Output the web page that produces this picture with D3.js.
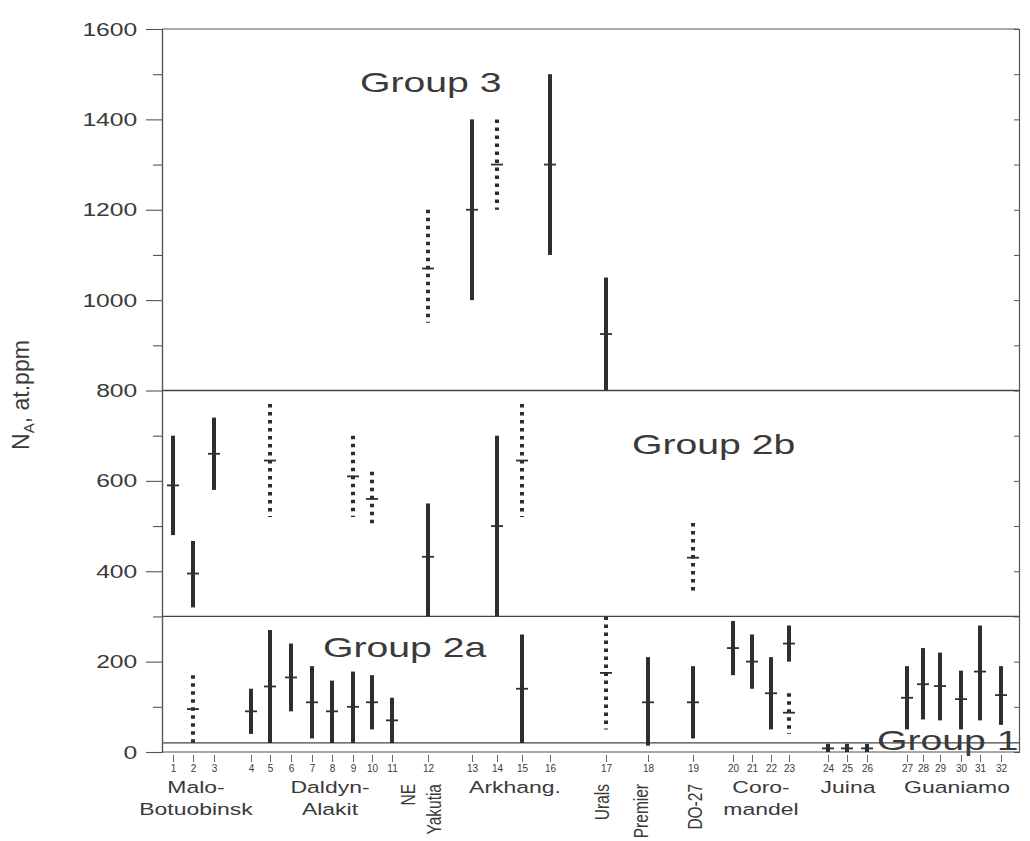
<!DOCTYPE html>
<html>
<head>
<meta charset="utf-8">
<script src="https://cdn.jsdelivr.net/npm/d3@7"></script>
<style>
  body { margin: 0; background: #fff; }
  text { font-family: "Liberation Sans", Arial, sans-serif; fill: #3a3a3a; }
</style>
</head>
<body>
<div class="content"></div>
<script>
// sample numbers and where they sit along the (unevenly spaced) x axis
var sampleIds = d3.range(1, 33);
var sampleSlots = [0.55, 1.55, 2.6, 4.45, 5.4, 6.45, 7.5, 8.5, 9.55, 10.5, 11.5,
    13.3, 15.5, 16.75, 18.0, 19.4, 22.2, 24.3, 26.55, 28.55, 29.5, 30.45, 31.35,
    33.3, 34.25, 35.25, 37.25, 38.05, 38.9, 39.95, 40.9, 41.95];

// ranges: [sample, low, mean, high]  (N_A, at.ppm)
var solidRanges = [
    [1, 480, 590, 700], [2, 320, 395, 467], [3, 580, 660, 740],
    [4, 40, 90, 140], [5, 20, 145, 270], [6, 90, 165, 240], [7, 30, 110, 190],
    [8, 20, 90, 158], [9, 20, 100, 178], [10, 50, 110, 170], [11, 20, 70, 120],
    [12, 300, 432, 550], [13, 1000, 1200, 1400], [14, 300, 500, 700],
    [15, 20, 140, 260], [16, 1100, 1300, 1500], [17, 800, 925, 1050],
    [18, 14, 110, 210], [19, 30, 110, 190], [20, 170, 230, 290],
    [21, 140, 200, 260], [22, 50, 130, 210], [23, 200, 240, 280],
    [24, 0, 8, 18], [25, 0, 8, 18], [26, 0, 8, 18],
    [27, 50, 120, 190], [28, 72, 150, 230], [29, 70, 146, 220],
    [30, 50, 117, 180], [31, 70, 178, 280], [32, 60, 126, 190]
];
var dottedRanges = [
    [2, 20, 95, 170], [5, 520, 645, 770], [9, 520, 610, 700], [10, 505, 560, 620],
    [12, 950, 1070, 1200], [14, 1200, 1300, 1400], [15, 520, 645, 770],
    [17, 50, 175, 300], [19, 350, 430, 507], [23, 40, 87, 130]
];

// group boundaries
var groupLimits = [20, 300, 800];

// region names under the axis
var regionNames = [["Malo-", "Botuobinsk"], ["Daldyn-", "Alakit"], ["Arkhang."],
    ["Coro-", "mandel"], ["Juina"], ["Guaniamo"]];
var regionSlots = [1.7, 8.4, 17.65, 29.95, 34.3, 39.75];
var verticalNames = ["NE", "Yakutia", "Urals", "Premier", "DO-27"];
var verticalSlots = [12.65, 13.95, 22.35, 24.3, 27.0];

var margin = {top: 29, right: 11, bottom: 89, left: 162},
    width = 1030 - margin.left - margin.right,
    height = 841 - margin.top - margin.bottom;

var svg = d3.select(".content")
    .append("svg")
    .attr("width", width + margin.left + margin.right)
    .attr("height", height + margin.top + margin.bottom)
    .append("g")
    .attr("transform", "translate(" + margin.left + "," + margin.top + ")");

var x = d3.scaleLinear().domain([0, 42.85]).range([0, width]);
var y = d3.scaleLinear().domain([0, 1600]).range([height, 0]);

function slotOf(id) { return sampleSlots[sampleIds.indexOf(id)]; }

var ink = "#2e2e2e";

// frame: top, bottom
svg.append("line").attr("x1", 0).attr("x2", width).attr("y1", y(1600)).attr("y2", y(1600))
    .attr("stroke", "#555").attr("stroke-width", 1.2);
svg.append("line").attr("x1", 0).attr("x2", width).attr("y1", y(0)).attr("y2", y(0))
    .attr("stroke", "#555").attr("stroke-width", 1.2);

// group dividers
svg.selectAll(".divider")
    .data(groupLimits)
    .enter()
    .append("line")
    .attr("x1", 0).attr("x2", width)
    .attr("y1", function(d) { return y(d); })
    .attr("y2", function(d) { return y(d); })
    .attr("stroke", "#444")
    .attr("stroke-width", 1.3);

// left axis: minor + major ticks
var minorAxis = svg.append("g")
    .call(d3.axisLeft(y).tickValues(d3.range(100, 1600, 200)).tickSize(9).tickFormat(""));
var majorAxis = svg.append("g")
    .call(d3.axisLeft(y).tickValues(d3.range(0, 1601, 200)).tickSize(16).tickPadding(0)
        .tickFormat(d3.format("d")));
[minorAxis, majorAxis].forEach(function(a) {
    a.select(".domain").attr("stroke", "#555").attr("stroke-width", 1.2);
    a.selectAll(".tick line").attr("stroke", "#555").attr("stroke-width", 1.1);
});
majorAxis.selectAll(".tick text")
    .attr("x", -19)
    .attr("transform", "scale(1.3,1)")
    .style("font-size", "19px")
    .attr("fill", "#3a3a3a");

// right border with inner ticks
var rightAxis = svg.append("g")
    .attr("transform", "translate(" + width + ",0)")
    .call(d3.axisLeft(y).tickValues(d3.range(0, 1601, 100)).tickSize(5).tickFormat(""));
rightAxis.select(".domain").attr("stroke", "#555").attr("stroke-width", 1.2);
rightAxis.selectAll(".tick line").attr("stroke", "#555");

// bottom axis with sample numbers
var bottomAxis = svg.append("g")
    .attr("transform", "translate(0," + (height + 3) + ")")
    .call(d3.axisBottom(x).tickValues(sampleSlots).tickSize(7).tickPadding(3)
        .tickFormat(function(d, i) { return sampleIds[i]; }));
bottomAxis.select(".domain").remove();
bottomAxis.selectAll(".tick line").attr("stroke", "#666");
bottomAxis.selectAll(".tick text").style("font-size", "10px").attr("fill", "#444");

// solid ranges
svg.selectAll(".solid")
    .data(solidRanges)
    .enter()
    .append("line")
    .attr("x1", function(d) { return x(slotOf(d[0])); })
    .attr("x2", function(d) { return x(slotOf(d[0])); })
    .attr("y1", function(d) { return y(d[1]); })
    .attr("y2", function(d) { return y(d[3]); })
    .attr("stroke", ink)
    .attr("stroke-width", 4);

// dotted ranges
svg.selectAll(".dotted")
    .data(dottedRanges)
    .enter()
    .append("line")
    .attr("x1", function(d) { return x(slotOf(d[0])); })
    .attr("x2", function(d) { return x(slotOf(d[0])); })
    .attr("y1", function(d) { return y(d[3]); })
    .attr("y2", function(d) { return y(d[1]); })
    .attr("stroke", ink)
    .attr("stroke-width", 4)
    .attr("stroke-dasharray", "3.5,4.5");

// mean marks
svg.selectAll(".mean")
    .data(solidRanges.concat(dottedRanges))
    .enter()
    .append("line")
    .attr("x1", function(d) { return x(slotOf(d[0])) - 6; })
    .attr("x2", function(d) { return x(slotOf(d[0])) + 6; })
    .attr("y1", function(d) { return y(d[2]); })
    .attr("y2", function(d) { return y(d[2]); })
    .attr("stroke", ink)
    .attr("stroke-width", 1.8);

// group titles
var groupTitles = [["Group 3", 9.9, 1460], ["Group 2b", 23.5, 659], ["Group 2a", 8.05, 210], ["Group 1", 35.75, 4]];
svg.selectAll(".gtitle")
    .data(groupTitles)
    .enter()
    .append("text")
    .attr("transform", function(d) { return "translate(" + x(d[1]) + "," + y(d[2]) + ") scale(1.4,1)"; })
    .style("font-size", "28px")
    .attr("fill", "#333")
    .text(function(d) { return d[0]; });

// region names
var region = svg.selectAll(".region")
    .data(regionNames)
    .enter()
    .append("text")
    .attr("transform", function(d, i) { return "translate(" + x(regionSlots[i]) + "," + (height + 41) + ") scale(1.35,1)"; })
    .attr("text-anchor", "middle")
    .style("font-size", "17px")
    .attr("fill", "#333");
region.selectAll("tspan")
    .data(function(d) { return d; })
    .enter()
    .append("tspan")
    .attr("x", 0)
    .attr("dy", function(d, i) { return i === 0 ? 0 : 22; })
    .text(function(d) { return d; });

svg.selectAll(".vname")
    .data(verticalNames)
    .enter()
    .append("text")
    .attr("transform", function(d, i) { return "translate(" + x(verticalSlots[i]) + "," + (height + 32) + ") rotate(-90) scale(1,1.25)"; })
    .attr("text-anchor", "end")
    .style("font-size", "15.5px")
    .attr("fill", "#333")
    .text(function(d) { return d; });

// y axis title
var ytitle = svg.append("text")
    .attr("transform", "translate(" + (29 - margin.left) + "," + y(790) + ") rotate(-90)")
    .attr("text-anchor", "middle")
    .style("font-size", "23px")
    .attr("fill", "#333");
ytitle.append("tspan").text("N");
ytitle.append("tspan").attr("dy", 5).style("font-size", "15px").text("A");
ytitle.append("tspan").attr("dy", -5).text(", at.ppm");
</script>
</body>
</html>
